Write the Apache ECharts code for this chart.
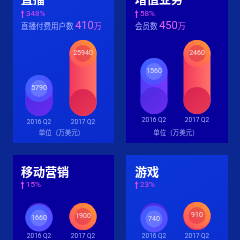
<!DOCTYPE html>
<html><head><meta charset="utf-8">
<script src="https://cdn.jsdelivr.net/npm/echarts@6/dist/echarts.min.js"></script>
<style>html,body{margin:0;padding:0;background:#0b2891}#c{width:240px;height:240px}</style>
</head><body><div id="c"></div>
<script>
const categories = ['2016 Q2', '2017 Q2'];
const panelTitles = ['直播', '增值业务', '移动营销', '游戏'];
const growthRates = ['348%', '58%', '15%', '23%'];
const liveValues = [5790, 25940];
const vasValues = [1560, 2460];
const marketingValues = [1660, 1900];
const gameValues = [740, 910];
const metricNames = ['直播付费用户数', '会员数'];
const metricValues = ['410', '450'];
const metricUnit = '万';
const unitLabel = '单位（万美元）';

const FONT = 'Roboto, "Noto Sans CJK SC", sans-serif';
const CJK = '"Noto Sans CJK SC", sans-serif';

const seriesValues = [liveValues, vasValues, marketingValues, gameValues];
const layouts = [
  {px: 13, py: -30, pw: 101, ph: 173, bright: true,  grid: {left: 17, top: 39.9, width: 88, height: 76.1}, min: -17800, max: 26000, tx: 21, ty: -0.5, gy: 14},
  {px: 126, py: -30, pw: 102, ph: 173, bright: false, grid: {left: 132.5, top: 40, width: 86, height: 74}, min: -1240, max: 2460, tx: 135, ty: -0.5, gy: 14},
  {px: 13, py: 155, pw: 101, ph: 173, bright: false, grid: {left: 17, top: 203, width: 88, height: 87}, min: -2276, max: 1900, tx: 21, ty: 172, gy: 185},
  {px: 126, py: 155, pw: 102, ph: 173, bright: true, grid: {left: 132.5, top: 202, width: 86, height: 88}, min: -450, max: 910, tx: 135, ty: 172, gy: 185}
];

const lin = (x, y, x2, y2, stops) => ({type: 'linear', x, y, x2, y2, colorStops: stops.map((c, i) => ({offset: i / (stops.length - 1), color: c}))});
const bodyColors = [lin(0, 0, 1, 0, ['#4f3df7', '#7a36ff']), lin(0, 0, 1, 0, ['#f2365c', '#ff7468'])];
const capColors = [lin(0, 0, 1, 1, ['#3b63ff', '#5b47ff']), lin(1, 0, 0, 1, ['#ff9a2e', '#ff4a66'])];
const innerColors = ['rgba(140,160,255,0.55)', 'rgba(215,40,80,0.6)'];
const baseColors = [lin(0, 0, 1, 1, ['#4a2ce0', '#6a2af0']), lin(0, 0, 1, 1, ['#d92050', '#e83a55'])];

const graphic = [];
layouts.forEach((L, i) => {
  graphic.push({type: 'rect', shape: {x: L.px, y: L.py, width: L.pw, height: L.ph}, style: {fill: L.bright ? lin(0, 0, 1, 1, ['#0c36d9', '#0a2bcc']) : '#07009c'}, z: 0});
  graphic.push({type: 'text', x: L.tx, y: L.ty, style: {text: panelTitles[i], fill: '#ffffff', font: 'bold 12px ' + CJK, verticalAlign: 'middle'}, z: 10});
  // small upward arrow icon
  graphic.push({type: 'polygon', x: L.tx + 1.5, y: L.gy, shape: {points: [[0, -4], [1.6, -1], [0.6, -1], [0.6, 4], [-0.6, 4], [-0.6, -1], [-1.6, -1]]}, style: {fill: '#e246f2'}, z: 10});
  graphic.push({type: 'text', x: L.tx + 5, y: L.gy, style: {text: growthRates[i], fill: '#e246f2', font: '8px ' + FONT, verticalAlign: 'middle'}, z: 10});
  if (i < 2) {
    graphic.push({type: 'text', x: L.tx, y: 26, style: {
      text: '{a|' + metricNames[i] + ' }{b|' + metricValues[i] + '}{c|' + metricUnit + '}', verticalAlign: 'middle',
      rich: {a: {fill: '#aab4ff', font: '7.5px ' + CJK}, b: {fill: '#e463f2', font: '11px ' + FONT}, c: {fill: '#e463f2', font: '8px ' + CJK}}
    }, z: 10});
    graphic.push({type: 'text', x: L.grid.left + L.grid.width / 2 + 0.5, y: 132.5, style: {text: unitLabel, fill: '#9aa8f0', font: '6.5px ' + CJK, align: 'center', verticalAlign: 'middle'}, z: 10});
  }
});

const grids = [], xAxes = [], yAxes = [], series = [];
layouts.forEach((L, i) => {
  grids.push(Object.assign({containLabel: false}, L.grid));
  xAxes.push({type: 'category', gridIndex: i, data: categories, axisLine: {show: false}, axisTick: {show: false},
    axisLabel: {color: '#a3b0f5', fontSize: 6.5, fontFamily: FONT, margin: 3.5}});
  yAxes.push({type: 'value', gridIndex: i, min: L.min, max: L.max, startValue: L.min, show: false, splitLine: {show: false}});
  const vals = seriesValues[i];
  const w = 27;
  series.push({type: 'bar', xAxisIndex: i, yAxisIndex: i, barWidth: w, z: 2,
    data: vals.map((v, j) => ({value: v, itemStyle: {color: bodyColors[j], borderRadius: w / 2}}))});
  series.push({type: 'pictorialBar', xAxisIndex: i, yAxisIndex: i, symbol: 'circle', symbolSize: [w, w], symbolPosition: 'start', z: 3,
    data: vals.map((v, j) => ({value: v, itemStyle: {color: baseColors[j]}}))});
  series.push({type: 'pictorialBar', xAxisIndex: i, yAxisIndex: i, symbol: 'circle', symbolSize: [w, w], symbolPosition: 'end', z: 4,
    data: vals.map((v, j) => ({value: v, itemStyle: {color: capColors[j]}}))});
  series.push({type: 'scatter', xAxisIndex: i, yAxisIndex: i, symbol: 'circle', symbolSize: 17, symbolOffset: [0, w / 2], z: 5,
    data: vals.map((v, j) => ({value: v, itemStyle: {color: innerColors[j]}})),
    label: {show: true, position: 'inside', color: '#ffffff', fontSize: 7, fontFamily: FONT, formatter: p => String(p.value)}});
});

const chart = echarts.init(document.getElementById('c'), null, {renderer: 'canvas'});
chart.setOption({
  backgroundColor: '#0b2891', animation: false,
  grid: grids, xAxis: xAxes, yAxis: yAxes, series, graphic
});
</script></body></html>
